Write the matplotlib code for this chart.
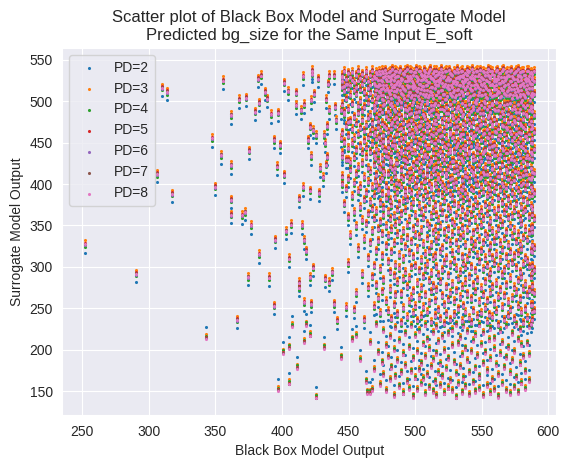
import matplotlib
matplotlib.use("Agg")
import matplotlib.pyplot as plt
import seaborn as sns
import numpy as np

# ---- data (PD=8 value per input; x = black box output) ----
pd_labels = ["PD=2", "PD=3", "PD=4", "PD=5", "PD=6", "PD=7", "PD=8"]
pd_colors = ["#1f77b4", "#ff7f0e", "#2ca02c", "#d62728", "#9467bd", "#8c564b", "#e377c2"]
# typical vertical shift of each PD's prediction relative to PD=8
pd_offsets_upper = [-10, 5, -3, 2, -1, 1, 0]   # inputs with PD=8 output >= 230
pd_offsets_lower = [14, 6, 4, 2, 1, 1, 0]      # inputs with PD=8 output < 230
split_level = 230

x_sparse = [252, 290.3, 306, 309.6, 313.6, 317.3, 342.9, 347.1, 350, 354.1, 355.6, 361.6, 361.6,
            361.6, 361.6, 366.2, 367.6, 369.7, 372.4, 373.2, 375.2, 376.9, 379.7, 381.7, 382.7,
            383, 384.2, 387.2, 388.7, 390.5, 391.6, 374.5, 394.2, 394.2, 395, 396.2, 397.2, 397.1,
            398.5, 401.5, 401.7, 401.1, 403.3, 404.8, 404.9, 405.5, 405.3, 406.6, 407.6, 410.5,
            410.5, 411.6, 412.5, 412.5, 413, 414.3, 415.7, 415.7, 415, 416.5, 416.8, 416.6, 416.6,
            418, 418.1, 419.3, 421, 421.1, 421.3, 421.3, 421.6, 421.8, 421.8, 422.3, 422.3, 423.3,
            423.6, 424, 425.5, 425.5, 426.8, 428, 428.5, 430.8, 431.3, 431.5, 432.3, 432.5, 432.8,
            433, 433.8, 433.8, 434.8, 435, 435.3, 435.3, 437.6, 439.3, 439.4, 439.8, 440.3, 441.3,
            444.3, 444.3, 444.3, 444.8, 444.8, 444.8, 444.8, 446.8, 446.8, 448.6, 449.8, 449.8,
            449.8, 454.3, 455.8, 463.5, 467.8]
y_sparse = [327, 291.6, 412, 516, 511, 388, 213, 455, 396.7, 434.7, 525, 483, 422.6,
            381, 362.7, 236, 502, 362, 366, 504, 440, 350, 487, 527, 498,
            315, 531, 511, 503, 287, 484, 287.5, 453, 253, 332.5, 421, 486, 150,
            447, 522, 411, 195, 343, 512, 158, 310, 201, 351, 227, 510,
            495, 177, 281, 275, 382, 489, 530, 396, 350, 496, 332, 257, 208,
            319, 229, 453, 469, 216, 392, 287.5, 255, 501, 433.5, 537, 533, 299,
            465, 509, 459, 141, 527, 389, 419, 408, 201, 459, 449, 285.5, 502,
            423, 433, 470, 521, 281, 531, 489, 293.5, 531, 255, 493, 477, 235,
            189, 455, 489, 517, 529, 433, 400, 487, 449, 521, 429, 406,
            475, 248, 215, 147, 150]

dense_cols = [
    (445.4, [531, 524, 496, 462, 437, 409]),
    (446.9, [536, 518, 512, 484, 451, 376]),
    (448.3, [527, 521, 503, 470, 429, 394, 251]),
    (449.6, [534, 515, 490, 458, 443, 360, 304]),
    (451.2, [529, 519, 507, 476, 426, 417, 338]),
    (452.5, [535, 526, 497, 466, 449, 385, 211]),
    (454.1, [523, 513, 481, 455, 432, 401, 366]),
    (455.4, [532, 517, 509, 473, 441, 412, 349, 268]),
    (457.0, [537, 525, 494, 486, 460, 420, 391, 322]),
    (458.7, [528, 514, 500, 468, 446, 397, 372, 186]),
    (460.1, [533, 521, 488, 477, 438, 425, 356, 291]),
    (461.6, [526, 511, 493, 464, 452, 408, 381, 333, 236]),
    (463.0, [536, 530, 505, 471, 444, 433, 389, 352, 160]),
    (464.7, [524, 516, 498, 480, 456, 419, 402, 364, 311, 275]),
    (466.1, [532, 519, 510, 483, 461, 439, 415, 378, 329, 207, 147]),
    (467.5, [537, 527, 502, 474, 467, 448, 396, 370, 343, 288]),
    (469.0, [530, 522, 495, 489, 459, 435, 423, 386, 358, 301, 252, 174]),
    (470.4, [535, 528, 514, 499, 481, 454, 442, 411, 399, 367, 319, 278, 229]),
    (471.9, [526, 518, 506, 476, 469, 437, 428, 393, 346, 331, 262, 195]),
    (473.3, [533, 520, 511, 491, 465, 450, 418, 404, 377, 354, 297, 244, 156]),
    (474.9, [537, 524, 503, 487, 473, 446, 431, 407, 388, 340, 313, 270, 183]),
    (476.2, [529, 516, 508, 495, 459, 452, 424, 416, 371, 362, 284, 221, 168]),
    (477.8, [534, 527, 519, 482, 468, 440, 434, 398, 383, 349, 325, 258, 203, 149]),
    (479.3, [531, 513, 500, 478, 463, 445, 412, 392, 366, 337, 306, 246, 190]),
    (480.9, [536, 525, 509, 497, 484, 456, 429, 421, 380, 358, 294, 273, 214, 162]),
    (482.2, [527, 521, 504, 472, 466, 438, 426, 403, 374, 345, 318, 237, 177]),
    (483.8, [533, 517, 512, 490, 479, 453, 447, 414, 395, 361, 328, 289, 254, 198, 143]),
    (485.1, [537, 529, 506, 488, 470, 443, 419, 409, 384, 351, 302, 266, 225, 166]),
    (486.7, [530, 523, 515, 498, 475, 461, 436, 425, 390, 369, 339, 281, 243, 185]),
    (488.0, [535, 519, 501, 485, 467, 449, 433, 400, 376, 355, 314, 298, 209, 154]),
    (489.6, [528, 526, 510, 493, 480, 455, 441, 417, 396, 364, 332, 267, 232, 171]),
    (491.1, [534, 516, 507, 474, 464, 451, 430, 406, 379, 343, 309, 285, 250, 193, 146]),
    (492.5, [537, 525, 513, 496, 483, 457, 439, 422, 387, 368, 324, 293, 218, 179]),
    (494.0, [531, 520, 502, 489, 471, 444, 427, 410, 381, 350, 335, 276, 239, 160]),
    (495.6, [526, 518, 511, 492, 466, 460, 434, 402, 393, 357, 317, 286, 257, 201, 151]),
    (497.0, [536, 528, 505, 486, 477, 448, 442, 415, 389, 372, 330, 299, 263, 227, 172]),
    (498.5, [532, 522, 516, 499, 473, 458, 423, 408, 378, 346, 312, 271, 244, 188, 142]),
    (499.9, [535, 517, 508, 481, 469, 452, 437, 419, 397, 362, 338, 301, 252, 215, 164]),
    (501.4, [529, 524, 512, 494, 482, 463, 445, 426, 405, 385, 353, 321, 280, 235, 196, 150]),
    (502.8, [537, 521, 503, 488, 470, 450, 431, 414, 390, 373, 336, 295, 262, 221, 174]),
    (504.3, [533, 526, 515, 497, 476, 461, 440, 420, 398, 366, 344, 308, 274, 240, 182, 157]),
    (505.9, [527, 518, 509, 484, 467, 455, 428, 411, 382, 359, 327, 288, 251, 205, 163]),
    (507.3, [535, 529, 506, 492, 479, 447, 436, 404, 392, 370, 315, 297, 266, 228, 190, 145]),
    (508.8, [531, 520, 513, 500, 474, 464, 433, 418, 387, 352, 334, 303, 245, 211, 168]),
    (510.2, [536, 523, 507, 487, 471, 457, 443, 424, 400, 378, 348, 319, 283, 256, 199, 153]),
    (511.7, [528, 517, 511, 495, 483, 452, 429, 409, 394, 361, 326, 292, 270, 233, 178]),
    (513.1, [534, 527, 504, 490, 468, 459, 438, 417, 384, 368, 341, 310, 277, 219, 186, 148]),
    (514.6, [530, 521, 516, 498, 477, 449, 432, 412, 401, 375, 345, 313, 259, 241, 160]),
    (516.0, [537, 524, 508, 485, 473, 462, 444, 421, 397, 363, 331, 300, 272, 226, 194, 143]),
    (517.5, [533, 519, 512, 496, 481, 453, 427, 406, 389, 356, 337, 290, 248, 208, 170]),
    (518.9, [526, 528, 505, 491, 466, 458, 440, 419, 403, 372, 349, 318, 282, 237, 181, 155]),
    (520.4, [535, 522, 514, 499, 475, 451, 435, 413, 386, 365, 323, 296, 265, 214, 166]),
    (521.8, [531, 518, 509, 489, 480, 464, 446, 425, 395, 379, 342, 305, 254, 231, 197, 146]),
    (523.3, [537, 526, 503, 493, 470, 455, 430, 410, 391, 358, 333, 311, 276, 243, 175]),
    (524.7, [529, 520, 516, 486, 478, 448, 437, 418, 399, 371, 346, 289, 260, 218, 188, 152]),
    (526.2, [534, 527, 510, 497, 472, 460, 442, 422, 388, 367, 328, 302, 268, 236, 161]),
    (527.6, [532, 517, 506, 492, 483, 456, 428, 407, 383, 354, 339, 316, 279, 222, 203, 149]),
    (529.1, [536, 524, 513, 500, 469, 452, 439, 416, 396, 376, 350, 307, 258, 242, 183]),
    (530.5, [528, 521, 508, 488, 476, 463, 445, 423, 402, 362, 329, 298, 271, 229, 169, 141]),
    (532.0, [535, 529, 515, 494, 479, 450, 433, 412, 390, 373, 343, 320, 285, 249, 206, 157]),
    (533.4, [531, 519, 504, 490, 467, 458, 441, 420, 385, 357, 335, 293, 263, 213, 178]),
    (534.9, [537, 525, 511, 498, 482, 454, 429, 405, 393, 369, 347, 312, 275, 234, 192, 147]),
    (536.3, [529, 522, 507, 485, 474, 461, 444, 426, 398, 380, 338, 304, 253, 227, 164]),
    (537.8, [534, 527, 516, 495, 471, 447, 436, 414, 389, 360, 326, 299, 281, 245, 200, 154]),
    (539.2, [532, 518, 510, 491, 478, 457, 432, 408, 384, 366, 344, 309, 267, 220, 185]),
    (540.7, [536, 523, 505, 497, 484, 451, 440, 421, 403, 377, 353, 316, 288, 238, 171, 144]),
    (542.1, [528, 520, 513, 488, 470, 462, 446, 417, 394, 363, 331, 300, 261, 232, 196]),
    (543.6, [535, 528, 508, 494, 475, 455, 434, 411, 392, 371, 341, 322, 278, 247, 209, 159]),
    (545.0, [531, 524, 516, 499, 481, 459, 430, 406, 381, 356, 327, 295, 270, 216, 176, 148]),
    (546.5, [537, 519, 503, 489, 468, 448, 438, 418, 399, 374, 345, 314, 284, 240, 191]),
    (547.9, [533, 526, 511, 492, 477, 464, 443, 424, 387, 362, 333, 306, 257, 228, 166, 151]),
    (549.4, [529, 521, 507, 496, 472, 453, 428, 409, 396, 368, 350, 319, 274, 244, 204]),
    (550.8, [536, 527, 514, 486, 480, 460, 437, 415, 390, 358, 329, 297, 266, 219, 182, 143]),
    (552.3, [532, 518, 509, 498, 473, 449, 441, 420, 402, 375, 340, 310, 282, 250, 195]),
    (553.7, [535, 525, 504, 490, 466, 457, 433, 412, 385, 364, 336, 301, 259, 233, 173, 155]),
    (555.2, [530, 523, 513, 494, 483, 462, 445, 427, 394, 372, 348, 317, 287, 242, 210]),
    (556.6, [537, 528, 510, 487, 476, 452, 431, 407, 388, 355, 325, 293, 268, 224, 187, 146]),
    (558.1, [533, 520, 506, 497, 470, 458, 439, 419, 400, 379, 343, 311, 276, 239, 162]),
    (559.5, [528, 524, 515, 491, 479, 447, 435, 413, 391, 367, 331, 304, 255, 212, 199, 150]),
    (561.0, [536, 519, 508, 499, 474, 463, 442, 422, 397, 360, 338, 315, 280, 246, 180]),
    (562.4, [531, 527, 512, 489, 467, 454, 430, 410, 383, 370, 346, 298, 263, 230, 168, 142]),
    (563.9, [534, 522, 505, 495, 482, 459, 436, 416, 393, 357, 328, 308, 272, 221, 193]),
    (565.3, [537, 525, 514, 488, 471, 450, 444, 423, 401, 377, 351, 320, 290, 251, 207, 157]),
    (566.8, [529, 518, 510, 496, 478, 461, 432, 408, 386, 365, 334, 296, 265, 236, 177]),
    (568.2, [535, 528, 507, 492, 469, 456, 438, 418, 395, 371, 342, 312, 278, 227, 189, 149]),
    (569.7, [532, 521, 513, 485, 475, 448, 427, 406, 382, 359, 326, 302, 257, 241, 201]),
    (571.1, [536, 524, 509, 498, 481, 464, 440, 421, 398, 374, 349, 318, 286, 248, 170, 145]),
    (572.6, [530, 519, 504, 490, 472, 453, 434, 412, 389, 361, 337, 305, 262, 218, 185]),
    (574.0, [534, 527, 515, 494, 477, 457, 429, 405, 384, 368, 344, 313, 275, 237, 196, 153]),
    (575.5, [537, 520, 508, 487, 468, 460, 443, 425, 396, 376, 330, 299, 269, 229, 165]),
    (576.9, [531, 525, 512, 497, 480, 451, 437, 414, 392, 363, 339, 316, 283, 252, 211, 147]),
    (578.4, [535, 518, 506, 491, 474, 455, 432, 409, 387, 358, 327, 294, 261, 223, 181]),
    (579.8, [529, 526, 514, 499, 471, 462, 446, 420, 399, 372, 352, 321, 288, 245, 204, 158]),
    (581.3, [536, 522, 509, 486, 478, 449, 428, 411, 381, 366, 335, 303, 273, 232, 190]),
    (582.7, [532, 527, 505, 493, 467, 458, 441, 417, 394, 369, 345, 311, 279, 249, 172, 151]),
    (584.2, [537, 519, 511, 496, 482, 454, 435, 424, 400, 378, 332, 307, 266, 238, 206]),
    (585.6, [530, 524, 516, 489, 473, 461, 431, 407, 385, 360, 341, 300, 272, 226, 192, 161]),
    (587.0, [535, 521, 507, 494, 476, 450, 439, 419, 397, 373, 347, 319, 287, 254, 231]),
    (588.1, [533, 527, 521, 510, 506, 493, 488, 471, 468, 455, 449, 436, 430, 414, 409, 393,
             386, 370, 363, 348, 342, 326, 318, 301, 293, 277, 270, 254, 246, 236]),
    (589.0, [536, 524, 509, 483, 463, 442, 413, 389, 358, 323, 296, 268, 247]),
]

# extra inputs in the saturated top band (x, PD=8 outputs)
top_cols = [
    (469.7, [528, 519, 509]), (471.2, [533, 518, 504]), (472.7, [536, 521, 512]),
    (474.4, [526, 515, 507]), (475.5, [534, 519, 501]), (477.0, [538, 531, 513]),
    (478.5, [525, 516, 505]), (480.1, [535, 529, 511]), (481.6, [530, 514, 498]),
    (483.0, [539, 532, 517]), (484.5, [526, 519, 508]), (485.9, [536, 521, 512]),
    (487.4, [531, 524, 505]), (488.9, [538, 522, 513]), (490.4, [527, 518, 509]),
    (491.9, [533, 515, 504]), (493.6, [539, 524, 502]), (494.9, [528, 517, 507]),
    (496.4, [537, 530, 511]), (497.9, [525, 518, 508]), (499.2, [535, 520, 503]),
    (500.6, [539, 531, 514]), (502.1, [527, 516, 506]), (503.6, [536, 521, 510]),
    (505.0, [531, 518, 500]), (506.6, [538, 532, 513]), (508.0, [526, 519, 509]),
    (509.5, [534, 523, 505]), (511.0, [539, 530, 512]), (512.4, [528, 517, 507]),
    (513.9, [537, 524, 496]), (515.3, [532, 519, 508]), (516.8, [526, 520, 511]),
    (518.3, [535, 523, 505]), (519.8, [539, 532, 513]), (521.1, [529, 518, 509]),
    (522.6, [536, 521, 503]), (524.0, [527, 517, 506]), (525.5, [538, 526, 515]),
    (527.0, [533, 519, 508]), (528.4, [525, 522, 511]), (529.8, [535, 524, 505]),
    (531.3, [539, 523, 514]), (532.7, [528, 520, 509]), (534.1, [536, 530, 512]),
    (535.6, [532, 518, 507]), (537.1, [526, 524, 515]), (538.6, [538, 527, 510]),
    (540.0, [535, 522, 501]), (541.3, [529, 516, 506]), (542.8, [539, 532, 513]),
    (544.3, [527, 520, 509]), (545.7, [536, 521, 502]), (547.2, [531, 517, 507]),
    (548.6, [538, 525, 515]), (550.1, [528, 519, 508]), (551.6, [535, 522, 500]),
    (553.0, [526, 516, 505]), (554.5, [539, 532, 514]), (555.9, [530, 520, 509]),
    (557.8, [536, 521, 498]), (559.1, [532, 518, 507]), (560.7, [527, 524, 515]),
    (561.7, [538, 527, 510]), (563.1, [534, 522, 511]), (564.6, [529, 516, 506]),
    (566.0, [539, 523, 513]), (567.5, [526, 520, 509]), (569.0, [536, 530, 512]),
    (570.4, [531, 517, 507]), (571.9, [538, 525, 515]), (573.3, [528, 519, 508]),
    (574.8, [535, 522, 511]), (576.2, [527, 516, 505]), (577.3, [539, 532, 514]),
    (578.9, [530, 520, 509]), (580.3, [536, 521, 502]), (581.9, [532, 518, 507]),
    (583.3, [528, 524, 515]), (584.9, [537, 527, 510]), (586.3, [534, 522, 501]),
    (587.6, [529, 516, 506]),
]

# extra inputs in the dense middle zone
mid_cols = [
    (470.0, [492, 463, 431, 404]), (473.0, [485, 457, 420, 395]), (476.5, [497, 470, 441, 412]),
    (479.8, [488, 452, 433, 389]), (482.8, [494, 475, 447, 418]), (485.6, [481, 460, 425, 401]),
    (489.1, [499, 468, 437, 409]), (492.2, [490, 455, 429, 392]), (495.2, [484, 473, 445, 414]),
    (498.0, [496, 462, 438, 405]), (501.0, [487, 466, 427, 398]), (503.3, [493, 471, 449, 416]),
    (506.3, [482, 458, 434, 403]), (509.1, [498, 469, 443, 411]), (512.1, [489, 461, 426, 396]),
    (514.4, [495, 474, 450, 419]), (517.1, [483, 465, 436, 408]), (520.0, [491, 459, 430, 399]),
    (523.0, [486, 472, 444, 413]), (525.9, [497, 463, 439, 406]), (528.8, [480, 457, 428, 401]),
    (531.6, [492, 470, 447, 417]), (534.5, [488, 460, 432, 394]), (537.5, [495, 467, 442, 410]),
    (540.4, [484, 474, 437, 404]), (543.3, [490, 458, 429, 415]), (546.0, [498, 466, 445, 400]),
    (548.9, [486, 471, 433, 407]), (551.9, [493, 462, 440, 412]), (554.8, [481, 456, 427, 397]),
    (557.6, [496, 473, 446, 418]), (560.2, [489, 464, 435, 405]), (563.3, [494, 459, 431, 410]),
    (566.3, [485, 470, 441, 398]), (569.3, [497, 466, 438, 414]), (572.3, [482, 461, 430, 403]),
    (575.2, [491, 475, 448, 416]), (578.0, [487, 463, 436, 409]), (581.0, [495, 469, 444, 401]),
    (583.6, [484, 458, 432, 412]), (586.9, [492, 467, 439, 406]),
]

all_cols = dense_cols + top_cols + mid_cols
x_cols = [cx for cx, ys in all_cols for _ in ys]
y_cols = [y for _, ys in all_cols for y in ys]

x_vals = np.array(x_sparse + x_cols, dtype=float)
y_vals = np.array(y_sparse + y_cols, dtype=float)

sns.set_style("darkgrid")
plt.rcParams["font.family"] = ["Liberation Sans", "DejaVu Sans"]
fig, ax = plt.subplots(figsize=(5.68, 4.67), dpi=100)

upper = y_vals >= split_level
for label, color, off_u, off_l in zip(pd_labels, pd_colors, pd_offsets_upper, pd_offsets_lower):
    y_pd = np.where(upper, y_vals + off_u, y_vals + off_l)
    ax.scatter(x_vals, y_pd, s=5, color=color, label=label, linewidths=0)

ax.set_title("Scatter plot of Black Box Model and Surrogate Model\nPredicted bg_size for the Same Input E_soft")
ax.set_xlabel("Black Box Model Output")
ax.set_ylabel("Surrogate Model Output")
ax.legend(loc="upper left")

fig.subplots_adjust(left=0.11, right=0.979, top=0.897, bottom=0.111)
fig.savefig("out.png", dpi=100)
